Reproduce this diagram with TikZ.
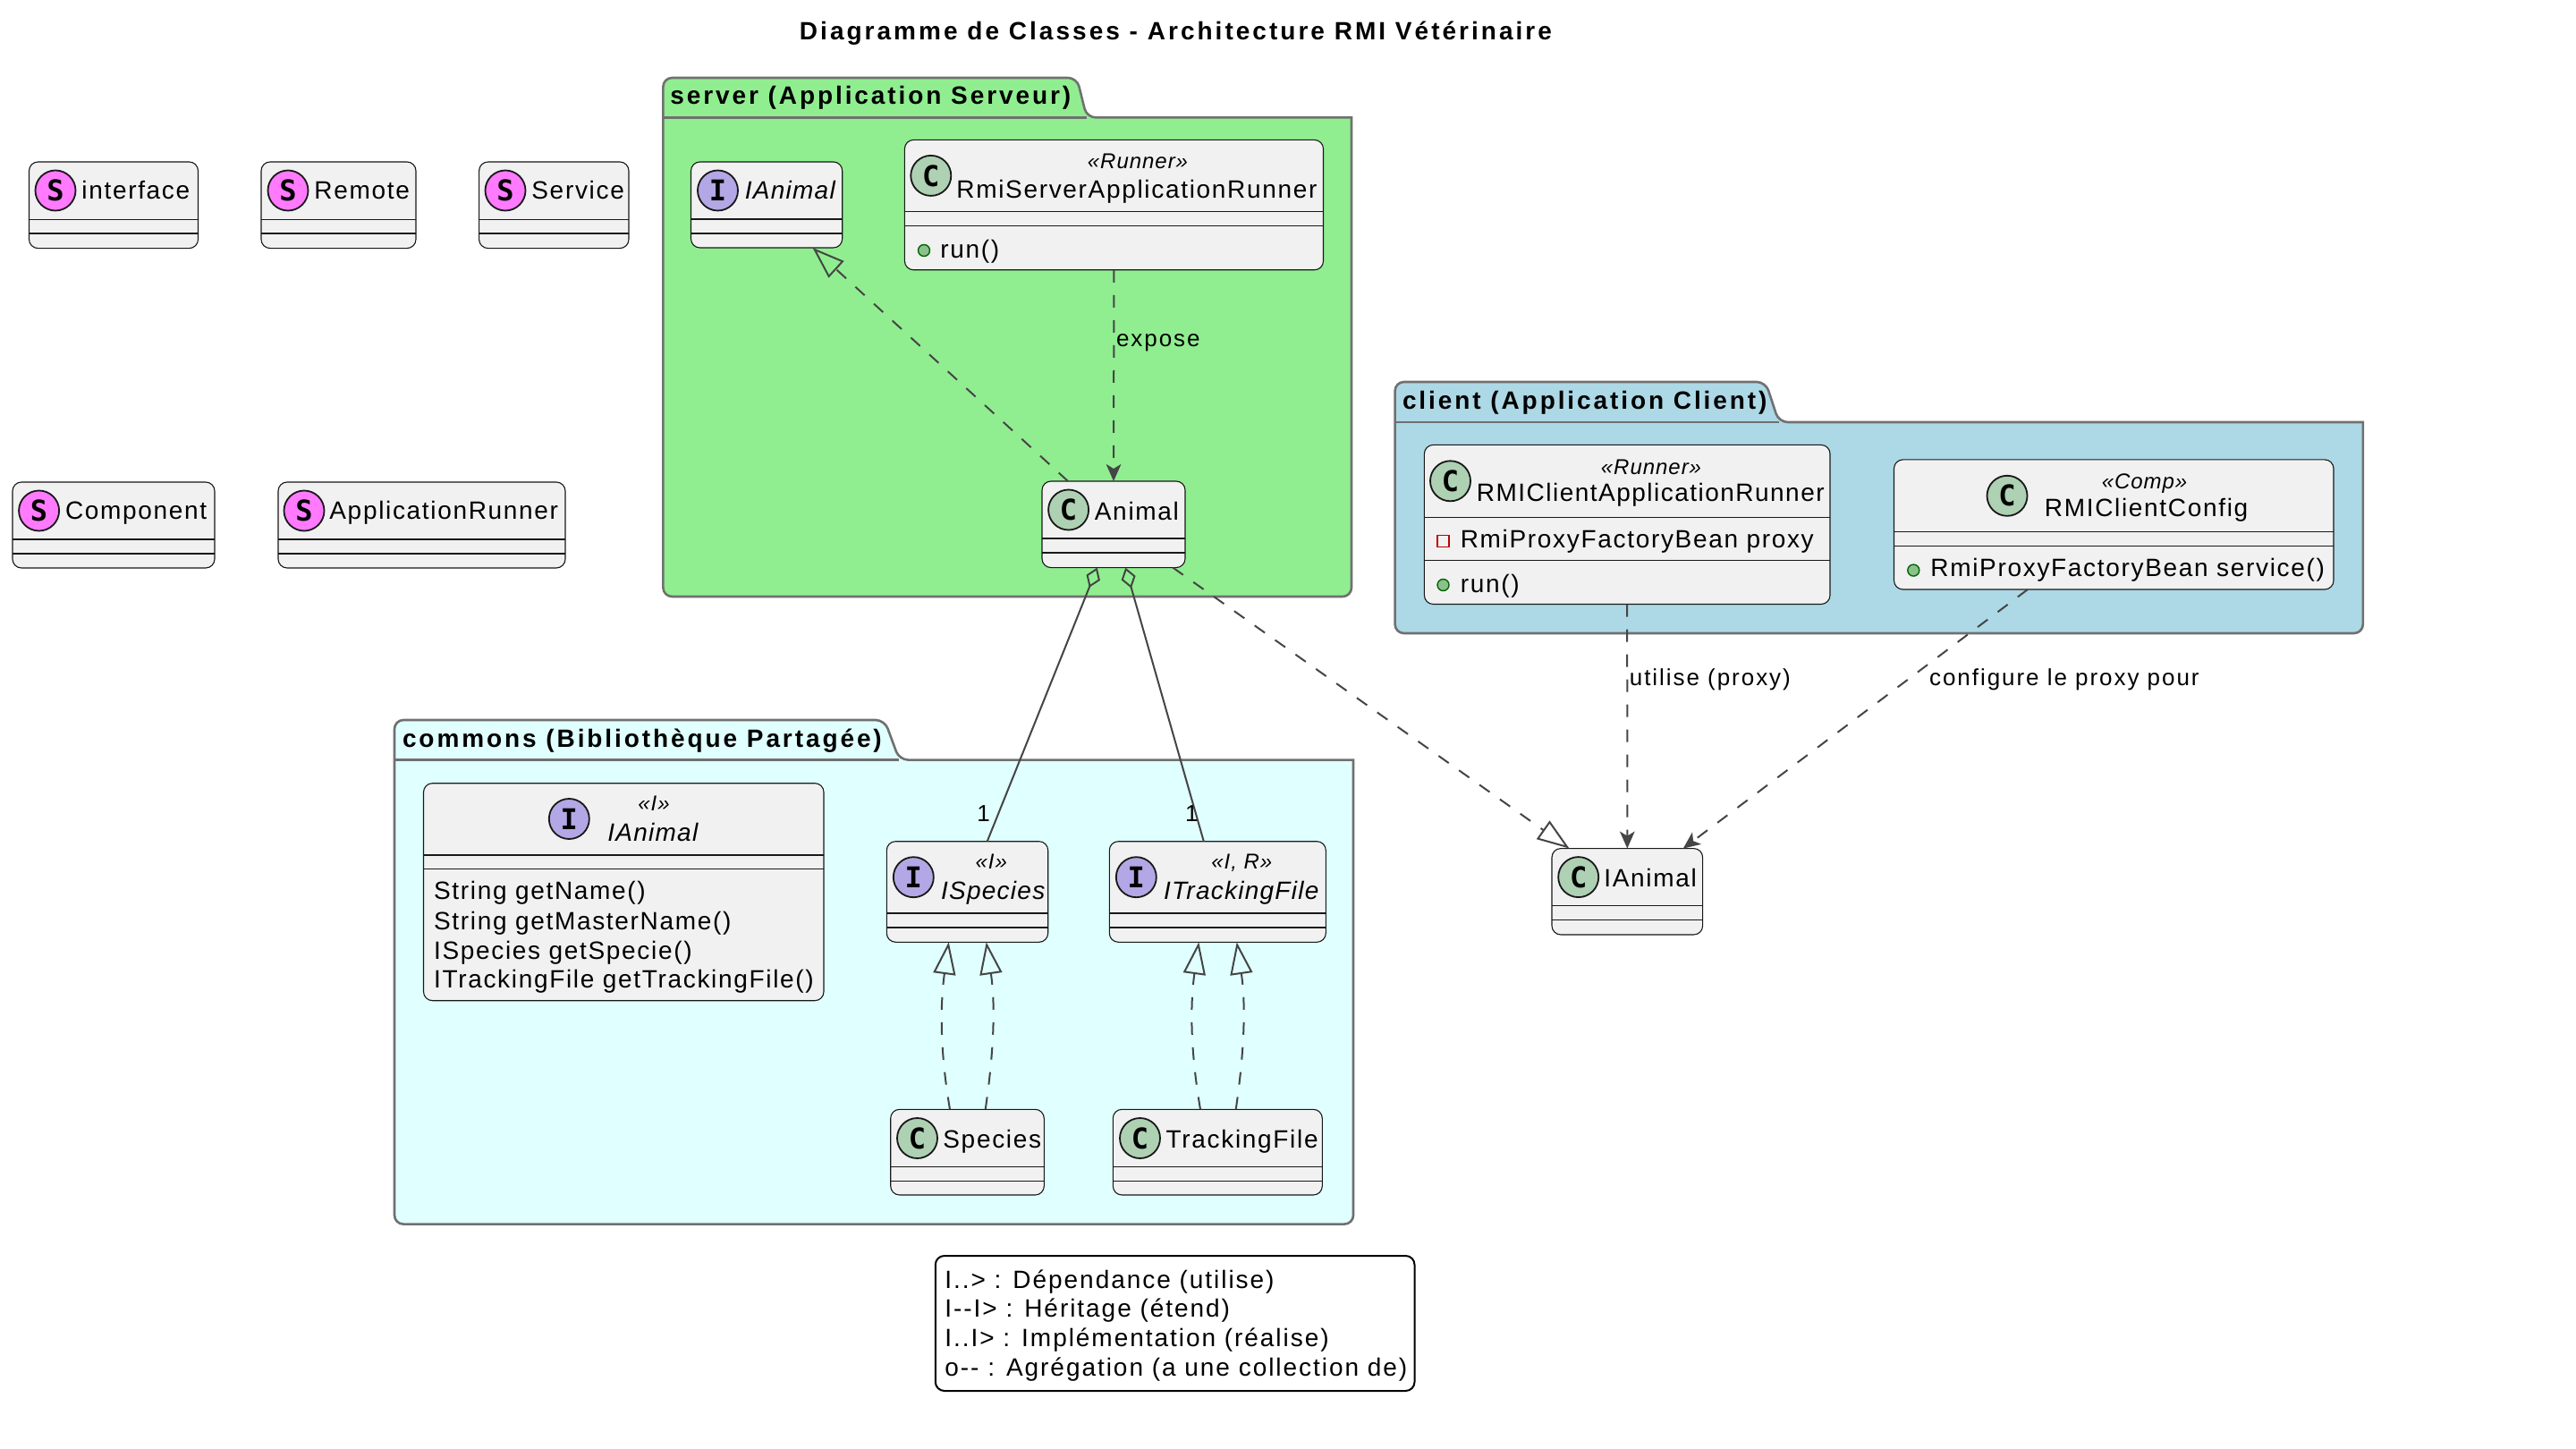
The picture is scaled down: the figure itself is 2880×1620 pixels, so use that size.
\documentclass[tikz,border=0pt]{standalone}
\usepackage{fontspec}
\usetikzlibrary{arrows.meta,calc}
\setmainfont{Liberation Sans}
\newfontfamily\regf[LetterSpace=6]{Liberation Sans}
\newfontfamily\tightf[LetterSpace=5.3]{Liberation Sans}
\newfontfamily\legf[LetterSpace=7]{Liberation Sans}
\newfontfamily\lblf[LetterSpace=7.5]{Liberation Sans}
\newfontfamily\itaf[LetterSpace=4.5,ItalicFont={Liberation Sans Italic}]{Liberation Sans}
\newfontfamily\boldf[LetterSpace=10.4,BoldFont={Liberation Sans Bold}]{Liberation Sans}
\newfontfamily\titlef[LetterSpace=10.8,BoldFont={Liberation Sans Bold}]{Liberation Sans}
\newfontfamily\sterf[LetterSpace=4,ItalicFont={Liberation Sans Italic}]{Liberation Sans}
\newfontfamily\spotf[BoldFont={DejaVu Sans Mono Bold}]{DejaVu Sans Mono}
\definecolor{boxfill}{HTML}{F1F1F1}
\definecolor{boxline}{HTML}{181818}
\definecolor{linkc}{HTML}{454545}
\definecolor{pkgline}{HTML}{707070}
\definecolor{spotC}{HTML}{ADD1B2}
\definecolor{spotI}{HTML}{B4A7E5}
\definecolor{spotS}{HTML}{FF7AFF}
\definecolor{pkgserver}{HTML}{90EE90}
\definecolor{pkgclient}{HTML}{ADD8E6}
\definecolor{pkgcommons}{HTML}{E0FFFF}
\tikzset{
  classbox/.style={draw=boxline,fill=boxfill,line width=0.55pt,rounded corners=5pt,inner sep=0pt,outer sep=0pt},
  sepline/.style={draw=boxline,line width=0.55pt},
  spotnode/.style={circle,draw=boxline,line width=0.9pt,inner sep=0pt,minimum size=22.5pt,font=\spotf\bfseries\fontsize{16}{16}\selectfont},
  nametext/.style={anchor=base west,inner sep=0pt,font=\regf\fontsize{14}{14}\selectfont,text=black},
  tightname/.style={anchor=base west,inner sep=0pt,font=\tightf\fontsize{14}{14}\selectfont,text=black},
  legtext/.style={anchor=base west,inner sep=0pt,font=\legf\fontsize{14}{14}\selectfont,text=black},
  italname/.style={anchor=base west,inner sep=0pt,font=\itaf\itshape\fontsize{14}{14}\selectfont,text=black},
  stereotext/.style={anchor=base,inner sep=0pt,font=\sterf\itshape\fontsize{12}{12}\selectfont,text=black},
  labeltext/.style={anchor=base west,inner sep=0pt,font=\lblf\fontsize{13}{13}\selectfont,text=black},
  pkgtitle/.style={anchor=base west,inner sep=0pt,font=\boldf\bfseries\fontsize{14}{14}\selectfont,text=black},
  pkgshape/.style={draw=pkgline,line width=1.3pt},
  pubmark/.style={circle,draw=green!40!black,fill=green!30!gray!70,line width=0.7pt,minimum size=6.5pt,inner sep=0pt},
  privmark/.style={rectangle,draw=red!75!black,line width=0.7pt,minimum size=6.5pt,inner sep=0pt},
  deplink/.style={draw=linkc,line width=1pt,dash pattern=on 7pt off 7pt,-{Stealth[length=9.5pt,width=8.3pt,inset=2.5pt,fill=linkc]}},
  impllink/.style={draw=linkc,line width=1pt,dash pattern=on 7pt off 7pt,-{Triangle[open,length=18pt,width=12.5pt,line width=1pt]}},
  agglink/.style={draw=linkc,line width=1pt,{Diamond[open,length=12pt,width=8.3pt,line width=1pt]}-},
  legendbox/.style={draw=black,fill=white,line width=1pt,rounded corners=5pt,inner sep=0pt,outer sep=0pt}
}
% name, x1, y1, x2, y2, first rule y, second rule y
\newcommand{\umlcls}[7]{%
  \pgfmathsetmacro{\cxv}{(#2+#4)/2}\pgfmathsetmacro{\cyv}{(#3+#5)/2}%
  \pgfmathsetmacro{\wv}{(#4-#2)*0.5}\pgfmathsetmacro{\hv}{(#5-#3)*0.5}%
  \node[classbox,minimum width=\wv pt,minimum height=\hv pt] (#1) at (\cxv,\cyv) {};%
  \draw[sepline] (#2,#6) -- (#4,#6);%
  \draw[sepline] (#2,#7) -- (#4,#7);%
}
\newcommand{\umlspot}[5]{\node[spotnode,fill=#4] (#1) at (#2,#3) {#5};}
\begin{document}
\begin{tikzpicture}[x=0.5pt,y=-0.5pt]
\useasboundingbox (0,0) rectangle (2880,1620);
\fill[white] (0,0) rectangle (2880,1620);

\node[inner sep=0pt,anchor=base,font=\titlef\bfseries\fontsize{14}{14}\selectfont] (title) at (1314.5,44.5) {Diagramme de Classes - Architecture RMI Vétérinaire};

% packages
\draw[pkgshape,fill=pkgserver] (741.4,131.4) [rounded corners=5pt] -- (741.4,87) -- (1204,87) -- (1215,131.4) [sharp corners] -- (1511,131.4) [rounded corners=5pt] -- (1511,667) -- (741.4,667) -- cycle;
\draw[pkgshape] (741.4,131.4) -- (1215,131.4);
\node[pkgtitle] (pkgS) at (749,117) {server (Application Serveur)};

\draw[pkgshape,fill=pkgclient] (1559.6,472) [rounded corners=5pt] -- (1559.6,427) -- (1974,427) -- (1988.7,472) [sharp corners] -- (2641.8,472) [rounded corners=5pt] -- (2641.8,708) -- (1559.6,708) -- cycle;
\draw[pkgshape] (1559.6,472) -- (1988.7,472);
\node[pkgtitle] (pkgC) at (1567.6,458) {client (Application Client)};

\draw[pkgshape,fill=pkgcommons] (441,849.6) [rounded corners=5pt] -- (441,805) -- (989,805) -- (1005.4,849.6) [sharp corners] -- (1513,849.6) [rounded corners=5pt] -- (1513,1368.6) -- (441,1368.6) -- cycle;
\draw[pkgshape] (441,849.6) -- (1005.4,849.6);
\node[pkgtitle] (pkgK) at (449.6,835.5) {commons (Bibliothèque Partagée)};

% spring stubs
\umlcls{sInterface}{32.5}{181}{221.5}{277.6}{245.2}{261}
\umlspot{sInterfaceS}{62}{213}{spotS}{S}
\node[nametext] (sInterfaceT) at (91,222.5) {interface};
\umlcls{sRemote}{292}{181}{465}{277.6}{245.2}{261}
\umlspot{sRemoteS}{322}{213}{spotS}{S}
\node[nametext] (sRemoteT) at (351,222.5) {Remote};
\umlcls{sService}{535.6}{181}{703}{277.6}{245.2}{261}
\umlspot{sServiceS}{565}{213}{spotS}{S}
\node[nametext] (sServiceT) at (594,222.5) {Service};
\umlcls{sComponent}{14}{539}{240}{635}{603}{619}
\umlspot{sComponentS}{43.6}{571}{spotS}{S}
\node[nametext] (sComponentT) at (72.7,580.5) {Component};
\umlcls{sRunner}{311}{539}{632}{635}{603}{619}
\umlspot{sRunnerS}{340}{571}{spotS}{S}
\node[nametext] (sRunnerT) at (368,580.5) {ApplicationRunner};

% server classes
\umlcls{rsar}{1011.4}{156.4}{1479.5}{301.8}{236.8}{252.9}
\umlspot{rsarS}{1040.8}{196.4}{spotC}{C}
\node[stereotext] (rsarST) at (1272,188.6) {«Runner»};
\node[nametext] (rsarT) at (1069,221.4) {RmiServerApplicationRunner};
\node[pubmark] (rsarP) at (1033,280) {};
\node[nametext] (rsarM) at (1051,288.6) {run()};

\umlcls{rian}{772.5}{181}{941.7}{277}{245}{261}
\umlspot{rianS}{802.5}{213}{spotI}{I}
\node[italname] (rianT) at (832.5,223) {IAnimal};

\umlcls{animal}{1165}{538}{1325}{634.6}{602}{618}
\umlspot{animalS}{1194.6}{570}{spotC}{C}
\node[nametext] (animalT) at (1223.5,581.4) {Animal};

% client classes
\umlcls{rcar}{1592.4}{497.4}{2046}{675.5}{578.7}{626.7}
\umlspot{rcarS}{1621.5}{537.8}{spotC}{C}
\node[stereotext] (rcarST) at (1846,530.7) {«Runner»};
\node[tightname] (rcarT) at (1650.5,561) {RMIClientApplicationRunner};
\node[privmark] (rcarQ) at (1613.5,605) {};
\node[nametext] (rcarF) at (1632.4,612.8) {RmiProxyFactoryBean proxy};
\node[pubmark] (rcarP) at (1613.5,654) {};
\node[nametext] (rcarM) at (1632.4,662) {run()};

\umlcls{cfg}{2117.5}{513.9}{2609}{659}{594.2}{610.2}
\umlspot{cfgS}{2244}{554.3}{spotC}{C}
\node[stereotext] (cfgST) at (2397.5,547) {«Comp»};
\node[nametext] (cfgT) at (2285.5,578) {RMIClientConfig};
\node[pubmark] (cfgP) at (2139.3,637.6) {};
\node[nametext] (cfgM) at (2158,645) {RmiProxyFactoryBean service()};

% free class
\umlcls{cian}{1735}{948.6}{1903.6}{1045}{1012.6}{1028.6}
\umlspot{cianS}{1764.7}{980.6}{spotC}{C}
\node[nametext] (cianT) at (1793,991.5) {IAnimal};

% commons classes
\umlcls{bian}{473.5}{875.7}{921}{1118.7}{956}{971.7}
\umlspot{bianS}{636.3}{915.5}{spotI}{I}
\node[stereotext] (bianST) at (731,906) {«I»};
\node[italname] (bianT) at (679,940) {IAnimal};
\node[nametext] (bianM1) at (484.7,1005.8) {String getName()};
\node[nametext] (bianM2) at (484.7,1039) {String getMasterName()};
\node[nametext] (bianM3) at (484.7,1072) {ISpecies getSpecie()};
\node[nametext] (bianM4) at (484.7,1104.5) {ITrackingFile getTrackingFile()};

\umlcls{ispecies}{991.3}{940.7}{1171.7}{1053.3}{1021}{1037}
\umlspot{ispeciesS}{1021.3}{980.7}{spotI}{I}
\node[stereotext] (ispeciesST) at (1108.3,971.7) {«I»};
\node[italname] (ispeciesT) at (1051.7,1005) {ISpecies};

\umlcls{itrack}{1240.3}{940.7}{1482.3}{1053.3}{1021}{1037}
\umlspot{itrackS}{1270.3}{980.7}{spotI}{I}
\node[stereotext] (itrackST) at (1388.3,971.7) {«I, R»};
\node[italname] (itrackT) at (1300.7,1005) {ITrackingFile};

\umlcls{species}{995.7}{1240.3}{1167.3}{1336}{1304.3}{1320.3}
\umlspot{speciesS}{1025.5}{1272.5}{spotC}{C}
\node[nametext] (speciesT) at (1054,1283) {Species};

\umlcls{track}{1244.3}{1240.3}{1478.3}{1336}{1304.3}{1320.3}
\umlspot{trackS}{1274.5}{1272.5}{spotC}{C}
\node[nametext] (trackT) at (1303.3,1283) {TrackingFile};

% connectors
\draw[deplink] (rsar.south) -- (animal.north);
\node[labeltext] (lblExpose) at (1247.6,387.5) {expose};
\draw[impllink] ($(animal.north west)+(29,0)$) -- ($(rian.south west)+(136,0)$);

\draw[agglink] ($(animal.south west)+(61.7,0)$) -- ($(ispecies.north west)+(112.4,0)$);
\draw[agglink] ($(animal.south west)+(93.3,0)$) -- ($(itrack.north west)+(105.5,0)$);
\node[labeltext] (lblOne) at (1092,918.5) {1};
\node[labeltext] (lblTwo) at (1324.7,918.5) {1};

\draw[impllink] ($(animal.south west)+(146.3,0)$) -- ($(cian.north west)+(19.5,0)$);
\draw[deplink] (rcar.south) -- (cian.north);
\node[labeltext] (lblUse) at (1821.5,766) {utilise (proxy)};
\draw[deplink] ($(cfg.south west)+(149.5,0)$) -- ($(cian.north east)+(-21.8,0)$);
\node[labeltext] (lblCfg) at (2156.7,766) {configure le proxy pour};

\draw[impllink] ($(species.north west)+(66.3,0)$) .. controls (1050,1170) and (1051.6,1120) .. ($(ispecies.south west)+(69.4,0)$);
\draw[impllink] ($(species.north west)+(106,0)$) .. controls (1112,1170) and (1112.5,1120) .. ($(ispecies.south west)+(111.4,0)$);
\draw[impllink] ($(track.north west)+(97.7,0)$) .. controls (1330,1170) and (1331,1120) .. ($(itrack.south west)+(100,0)$);
\draw[impllink] ($(track.north west)+(137.4,0)$) .. controls (1392,1170) and (1392.5,1120) .. ($(itrack.south west)+(142.4,0)$);

% legend
\node[legendbox,minimum width=267.85pt,minimum height=75.5pt] (legend) at (1313.65,1479.5) {};
\node[legtext] (leg1) at (1056,1440.7) {I..> : Dépendance (utilise)};
\node[legtext] (leg2) at (1056,1472.7) {I--I> : Héritage (étend)};
\node[legtext] (leg3) at (1056,1505.7) {I..I> : Implémentation (réalise)};
\node[legtext] (leg4) at (1056,1538.3) {o-- : Agrégation (a une collection de)};
\end{tikzpicture}
\end{document}
